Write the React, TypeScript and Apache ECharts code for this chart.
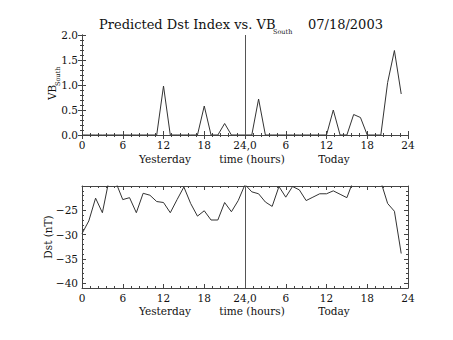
import React, { useEffect, useRef } from "react";
import * as echarts from "echarts";

// VB South (hourly, yesterday 0..23 then today 0..23)
const vbSouth: number[] = [
  0, 0, 0, 0, 0, 0, 0, 0, 0, 0, 0, 0, 0.98, 0, 0, 0, 0, 0, 0.58, 0, 0, 0.23, 0, 0,
  0, 0, 0.72, 0, 0, 0, 0, 0, 0, 0, 0, 0, 0, 0.5, 0, 0, 0.41, 0.35, 0, 0, 0, 1.05, 1.69, 0.82,
];

// Dst (nT), hourly
const dst: number[] = [
  -29.8, -27.2, -22.5, -25.5, -18.6, -19.3, -22.8, -22.4, -25.5, -21.5,
  -21.9, -23.2, -23.4, -25.5, -22.8, -20.2, -23.6, -26.2, -25.1, -27.0,
  -27.0, -23.4, -25.3, -23.0, -19.7, -21.2, -21.6, -23.3, -24.2, -20.1,
  -22.3, -20.1, -20.8, -23.0, -22.3, -21.6, -21.6, -21.0, -21.7, -22.4,
  -18.7, -18.0, -18.0, -18.5, -19.1, -23.6, -25.2, -33.9,
];

const hours: number[] = vbSouth.map((_, i) => i);

const dstMajorTicks: number[] = [-40, -35, -30, -25];
const dstMinorTicks: number[] = [
  -40, -39, -38, -37, -36, -35, -34, -33, -32, -31, -30, -29, -28, -27, -26, -25, -24, -23, -22, -21,
];

const dayLabels: string[] = ["Yesterday", "time (hours)", "Today"];
const titleMain = "Predicted Dst Index vs. VB";
const titleSub = "South";
const titleDate = "07/18/2003";

const FONT = '"DejaVu Serif", serif';
const AX = "#444";
const LINE = "#333";
const TXT = "#111";

function xLabel(v: number): string {
  if (v === 24) return "24,0";
  return String(v > 24 ? v - 24 : v);
}

export default function App() {
  const ref = useRef<HTMLDivElement>(null);
  useEffect(() => {
    if (!ref.current) return;
    const chart = echarts.init(ref.current, null, { renderer: "svg" });

    const baseX = (gridIndex: number, position: "top" | "bottom", labels: boolean) => ({
      type: "value",
      gridIndex,
      position,
      min: 0,
      max: 48,
      interval: 6,
      axisLine: { show: true, lineStyle: { color: AX, width: 1 } },
      axisTick: { show: true, inside: true, length: 4, lineStyle: { color: AX } },
      minorTick: { show: true, splitNumber: 5, length: 2, lineStyle: { color: AX } },
      splitLine: { show: false },
      axisLabel: {
        show: labels,
        margin: 5,
        color: TXT,
        fontFamily: FONT,
        fontSize: 10.5,
        lineHeight: 10,
        formatter: (v: number) => xLabel(v),
      },
    });

    const markLine = {
      silent: true,
      symbol: ["none", "none"],
      label: { show: false },
      lineStyle: { color: "#555", width: 1, type: "solid" },
      data: [{ xAxis: 24 }],
    };

    const textEl = (
      text: string,
      x: number,
      y: number,
      size: number,
      align: string,
      rotation = 0
    ) => ({
      type: "text",
      x,
      y,
      rotation,
      silent: true,
      style: {
        text,
        fill: TXT,
        fontSize: size,
        fontFamily: FONT,
        lineHeight: size,
        align,
        verticalAlign: "middle",
      },
    });

    const dayX = [165, 252, 334];

    chart.setOption({
      animation: false,
      backgroundColor: "#fff",
      grid: [
        { left: 82, top: 35, width: 326, height: 100 },
        { left: 82, top: 186, width: 326, height: 102 },
      ],
      xAxis: [
        baseX(0, "bottom", true),
        baseX(0, "top", false),
        baseX(1, "bottom", true),
        baseX(1, "top", false),
      ],
      yAxis: [
        {
          type: "value",
          gridIndex: 0,
          position: "left",
          min: 0,
          max: 2,
          interval: 0.5,
          axisLine: { show: true, lineStyle: { color: AX } },
          axisTick: { show: true, inside: true, length: 4, lineStyle: { color: AX } },
          minorTick: { show: true, splitNumber: 5, length: 2, lineStyle: { color: AX } },
          splitLine: { show: false },
          axisLabel: {
            margin: 4,
            color: TXT,
            fontFamily: FONT,
            fontSize: 10.5,
            lineHeight: 10,
            formatter: (v: number) => v.toFixed(1),
          },
        },
        {
          type: "value",
          gridIndex: 0,
          position: "right",
          min: 0,
          max: 2,
          interval: 0.5,
          axisLine: { show: true, lineStyle: { color: AX } },
          axisTick: { show: true, inside: true, length: 4, lineStyle: { color: AX } },
          minorTick: { show: true, splitNumber: 5, length: 2, lineStyle: { color: AX } },
          splitLine: { show: false },
          axisLabel: { show: false },
        },
        {
          type: "value",
          gridIndex: 1,
          position: "left",
          min: -41,
          max: -20,
          axisLine: { show: true, lineStyle: { color: AX } },
          axisTick: {
            show: true,
            inside: true,
            length: 4,
            lineStyle: { color: AX },
            customValues: dstMajorTicks,
          },
          splitLine: { show: false },
          axisLabel: {
            margin: 4,
            color: TXT,
            fontFamily: FONT,
            fontSize: 10.5,
            lineHeight: 10,
            customValues: dstMajorTicks,
            formatter: (v: number) => String(v).replace("-", "\u2212"),
          },
        },
        {
          type: "value",
          gridIndex: 1,
          position: "left",
          min: -41,
          max: -20,
          axisLine: { show: false },
          axisTick: {
            show: true,
            inside: true,
            length: 2,
            lineStyle: { color: AX },
            customValues: dstMinorTicks,
          },
          splitLine: { show: false },
          axisLabel: { show: false },
        },
        {
          type: "value",
          gridIndex: 1,
          position: "right",
          min: -41,
          max: -20,
          axisLine: { show: true, lineStyle: { color: AX } },
          axisTick: {
            show: true,
            inside: true,
            length: 4,
            lineStyle: { color: AX },
            customValues: dstMajorTicks,
          },
          splitLine: { show: false },
          axisLabel: { show: false },
        },
        {
          type: "value",
          gridIndex: 1,
          position: "right",
          min: -41,
          max: -20,
          axisLine: { show: false },
          axisTick: {
            show: true,
            inside: true,
            length: 2,
            lineStyle: { color: AX },
            customValues: dstMinorTicks,
          },
          splitLine: { show: false },
          axisLabel: { show: false },
        },
      ],
      series: [
        {
          type: "line",
          xAxisIndex: 0,
          yAxisIndex: 0,
          data: hours.map((h) => [h, vbSouth[h]]),
          symbol: "none",
          clip: true,
          lineStyle: { color: LINE, width: 1 },
          markLine,
        },
        {
          type: "line",
          xAxisIndex: 2,
          yAxisIndex: 2,
          data: hours.map((h) => [h, dst[h]]),
          symbol: "none",
          clip: true,
          lineStyle: { color: LINE, width: 1 },
          markLine,
        },
      ],
      graphic: [
        textEl(titleMain, 99, 24, 13, "left"),
        textEl(titleSub, 273, 32, 6.5, "left"),
        textEl(titleDate, 308, 24, 13, "left"),
        textEl("VB", 51.5, 100, 10.5, "left", Math.PI / 2),
        textEl(titleSub, 57.5, 86, 6.5, "left", Math.PI / 2),
        textEl("Dst (nT)", 48, 237, 10.5, "center", Math.PI / 2),
        ...dayLabels.map((t, i) => textEl(t, dayX[i], 158.5, 10.5, "center")),
        ...dayLabels.map((t, i) => textEl(t, dayX[i], 310.5, 10.5, "center")),
      ],
    });
    return () => chart.dispose();
  }, []);

  return (
    <div
      ref={ref}
      style={{ position: "fixed", left: 0, top: 0, width: 453, height: 340, background: "#fff" }}
    />
  );
}
